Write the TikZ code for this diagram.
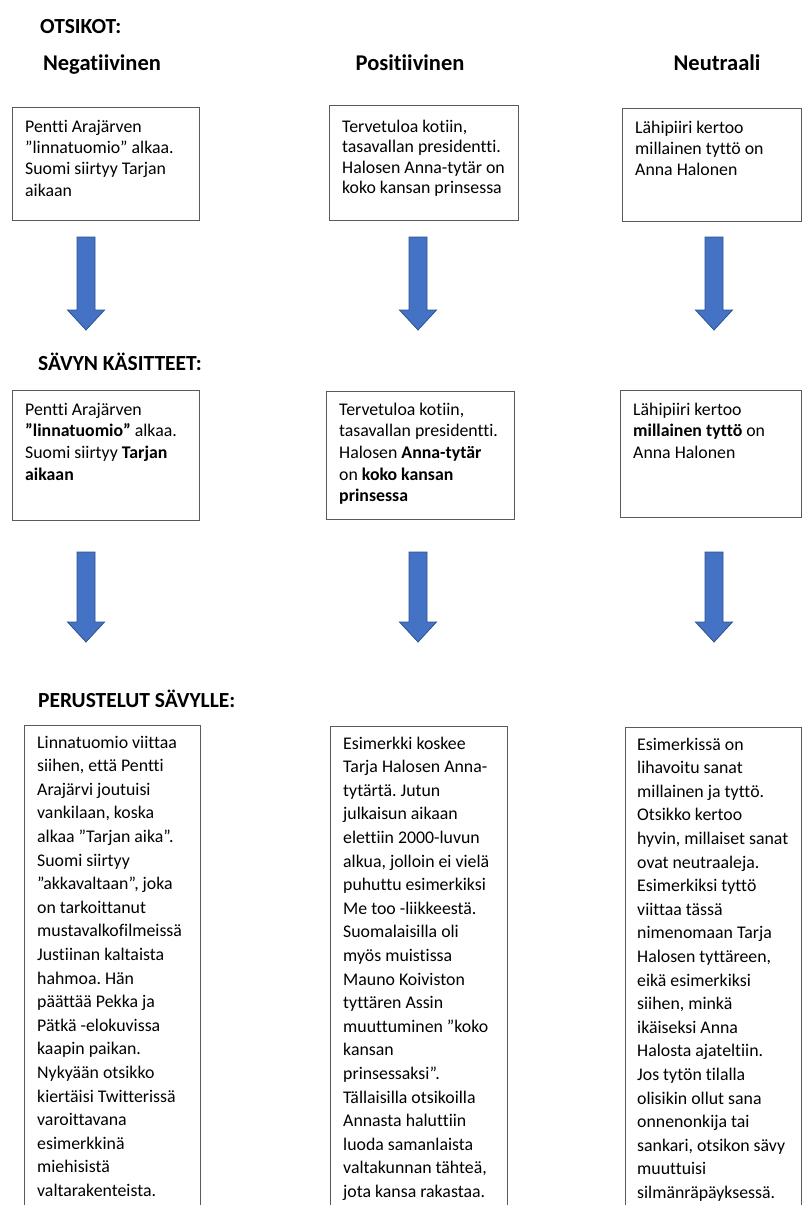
\documentclass[tikz,border=0pt]{standalone}
\usepackage{fontspec}
\setmainfont{Carlito}[Ligatures=NoCommon]
\frenchspacing
\definecolor{arrowblue}{HTML}{4472C4}
\definecolor{arrowedge}{HTML}{2F528F}
\definecolor{boxedge}{HTML}{5A5A5A}
\begin{document}
\begin{tikzpicture}[x=1pt,y=-1pt,
  box/.style={draw=boxedge,line width=1.1pt,fill=none,inner sep=0pt,anchor=north west},
  body/.style={anchor=base west,inner sep=0pt,align=left,font=\fontsize{17.8}{21.4}\selectfont},
  longbody/.style={anchor=base west,inner sep=0pt,align=left,font=\fontsize{17.8}{23.6}\selectfont},
  sect/.style={anchor=base west,inner sep=0pt,font=\fontsize{21.5}{26}\selectfont\bfseries},
  coltitle/.style={anchor=base,inner sep=0pt,font=\fontsize{22.5}{27}\selectfont\bfseries},
  pics/darrow/.style={code={\filldraw[fill=arrowblue,draw=arrowedge,line width=0.8pt,line join=miter]
     (-9,0) -- (9,0) -- (9,#1-20) -- (18.5,#1-20) -- (0,#1) -- (-18.5,#1-20) -- (-9,#1-20) -- cycle;}}]
\useasboundingbox (0,0) rectangle (802,1205);
\fill[white] (0,0) rectangle (802,1205);
\clip (0,0) rectangle (802,1205);

% headings
\node[sect] (h1) at (40,33) {OTSIKOT:};
\node[coltitle] (c1) at (102,70) {Negatiivinen};
\node[coltitle] (c2) at (410,70) {Positiivinen};
\node[coltitle] (c3) at (717,70) {Neutraali};
\node[sect] (h2) at (38,370) {SÄVYN KÄSITTEET:};
\node[sect] (h3) at (38,707) {PERUSTELUT SÄVYLLE:};

% row 1 (text nodes are anchored at the baseline of their last line)
\node[box,minimum width=187,minimum height=113] (b11) at (12,107) {};
\node[box,minimum width=189,minimum height=115] (b12) at (329,105) {};
\node[box,minimum width=179,minimum height=113] (b13) at (622,108) {};
\node[body] (t11) at (25,196.2) {Pentti Arajärven\\”linnatuomio” alkaa.\\Suomi siirtyy Tarjan\\aikaan};
\node[body,font=\fontsize{17.8}{20.6}\selectfont] (t12) at (342,193.8) {Tervetuloa kotiin,\\tasavallan presidentti.\\Halosen Anna-tytär on\\koko kansan prinsessa};
\node[body] (t13) at (635,175.8) {Lähipiiri kertoo\\millainen tyttö on\\Anna Halonen};

% arrows row 1
\pic at (86,237) {darrow=93};
\pic at (418,237) {darrow=93};
\pic at (714,237) {darrow=93};

% row 2
\node[box,minimum width=187,minimum height=130] (b21) at (12,390) {};
\node[box,minimum width=188,minimum height=128] (b22) at (326,391) {};
\node[box,minimum width=181,minimum height=127] (b23) at (620,390) {};
\node[body,font=\fontsize{17.8}{21.7}\selectfont] (t21) at (25,480.1) {Pentti Arajärven\\\textbf{”linnatuomio”} alkaa.\\Suomi siirtyy \textbf{Tarjan}\\\textbf{aikaan}};
\node[body,font=\fontsize{17.8}{21.7}\selectfont] (t22) at (339,501.8) {Tervetuloa kotiin,\\tasavallan presidentti.\\Halosen \textbf{Anna-tytär}\\on \textbf{koko kansan}\\\textbf{prinsessa}};
\node[body,font=\fontsize{17.8}{21.7}\selectfont] (t23) at (633,458.4) {Lähipiiri kertoo\\\textbf{millainen tyttö} on\\Anna Halonen};

% arrows row 2
\pic at (86,552) {darrow=90};
\pic at (418,552) {darrow=90};
\pic at (714,552) {darrow=90};

% row 3
\node[box,minimum width=176,minimum height=500] (b31) at (24,725) {};
\node[box,minimum width=177,minimum height=500] (b32) at (330,726) {};
\node[box,minimum width=176,minimum height=500] (b33) at (625,727) {};
\node[longbody] (t31) at (37,1196.4) {Linnatuomio viittaa\\siihen, että Pentti\\Arajärvi joutuisi\\vankilaan, koska\\alkaa ”Tarjan aika”.\\Suomi siirtyy\\”akkavaltaan”, joka\\on tarkoittanut\\mustavalkofilmeissä\\Justiinan kaltaista\\hahmoa. Hän\\päättää Pekka ja\\Pätkä -elokuvissa\\kaapin paikan.\\Nykyään otsikko\\kiertäisi Twitterissä\\varoittavana\\esimerkkinä\\miehisistä\\valtarakenteista.};
\node[longbody] (t32) at (343,1197.4) {Esimerkki koskee\\Tarja Halosen Anna-\\tytärtä. Jutun\\julkaisun aikaan\\elettiin 2000-luvun\\alkua, jolloin ei vielä\\puhuttu esimerkiksi\\Me too -liikkeestä.\\Suomalaisilla oli\\myös muistissa\\Mauno Koiviston\\tyttären Assin\\muuttuminen ”koko\\kansan\\prinsessaksi”.\\Tällaisilla otsikoilla\\Annasta haluttiin\\luoda samanlaista\\valtakunnan tähteä,\\jota kansa rakastaa.};
\node[longbody] (t33) at (637,1198.4) {Esimerkissä on\\lihavoitu sanat\\millainen ja tyttö.\\Otsikko kertoo\\hyvin, millaiset sanat\\ovat neutraaleja.\\Esimerkiksi tyttö\\viittaa tässä\\nimenomaan Tarja\\Halosen tyttäreen,\\eikä esimerkiksi\\siihen, minkä\\ikäiseksi Anna\\Halosta ajateltiin.\\Jos tytön tilalla\\olisikin ollut sana\\onnenonkija tai\\sankari, otsikon sävy\\muuttuisi\\silmänräpäyksessä.};
\end{tikzpicture}
\end{document}
